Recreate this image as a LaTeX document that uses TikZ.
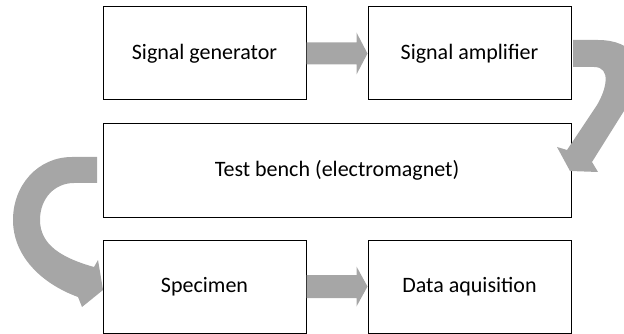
\documentclass[tikz,border=0pt]{standalone}
\usepackage{fontspec}
\setmainfont{Carlito}
\usetikzlibrary{calc}
\definecolor{arrowgray}{HTML}{A6A6A6}
\tikzset{
  box/.style={draw=black, line width=1pt, fill=white, minimum width=203pt, minimum height=93pt, inner sep=0pt, font=\fontsize{22}{26}\selectfont},
  widebox/.style={box, minimum width=468pt},
  blockarrow/.style={fill=arrowgray, draw=none}
}
\begin{document}
\begin{tikzpicture}[x=1pt,y=-1pt]
\useasboundingbox (0,0) rectangle (624,334);
\clip (0,0) rectangle (624,334);
\node[box] (gen) at (204.5,53.5) {Signal generator};
\node[box] (amp) at (469.5,53.5) {Signal amplifier};
\node[widebox] (bench) at (337,170.5) {Test bench (electromagnet)};
\node[box] (spec) at (204.5,286.5) {Specimen};
\node[box] (data) at (469.5,286.5) {Data aquisition};
% straight block arrows
\fill[blockarrow] ($(gen.east)+(0,-11)$) -- ($(amp.west)+(-11,-11)$) -- ($(amp.west)+(-11,-21)$) -- (amp.west) -- ($(amp.west)+(-11,21)$) -- ($(amp.west)+(-11,11)$) -- ($(gen.east)+(0,11)$) -- cycle;
\fill[blockarrow] ($(spec.east)+(0,-11.5)$) -- ($(data.west)+(-11,-11.5)$) -- ($(data.west)+(-11,-20)$) -- (data.west) -- ($(data.west)+(-11,20)$) -- ($(data.west)+(-11,11.5)$) -- ($(spec.east)+(0,11.5)$) -- cycle;
% curved arrow from amplifier to test bench
\coordinate (tipR) at (570,171);
\fill[blockarrow] (573,40) -- (598,40) .. controls (632,40) and (650,62) .. (634,95) -- (592,162) -- (598,172) -- (tipR) -- (557,147) -- (567,150) -- (597,105) .. controls (606,90) and (612,67) .. (594,67) -- (573,67) -- cycle;
% curved arrow from test bench to specimen
\coordinate (tipL) at (103,290);
\fill[blockarrow] (97,157) -- (72,157) .. controls (38,157) and (13,185) .. (13,220) .. controls (13,255) and (40,283) .. (78,297) -- (82,307) -- (tipL) -- (98,260) -- (94,267) .. controls (62,258) and (40,245) .. (40,220) .. controls (40,198) and (55,183) .. (74,183) -- (97,183) -- cycle;
\end{tikzpicture}
\end{document}
